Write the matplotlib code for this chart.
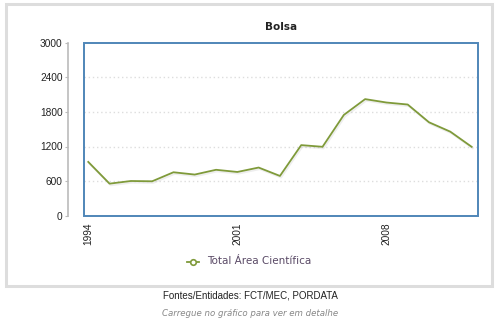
import matplotlib.pyplot as plt
import matplotlib.patheffects as pe
from matplotlib.patches import Rectangle
from matplotlib.lines import Line2D

# Bolsa - Total Área Científica
years = list(range(1994, 2013))
values = [932, 554, 600, 595, 752, 712, 795, 757, 834, 688,
          1224, 1195, 1749, 2024, 1965, 1930, 1621, 1458, 1195]
yticks = [0, 600, 1200, 1800, 2400, 3000]
xticks = [1994, 2001, 2008]

W, H = 500, 326
line_col = '#7f9a3a'
box_col = '#4f86b8'

fig = plt.figure(figsize=(W / 100, H / 100), dpi=100)
fig.patch.set_facecolor('white')

# outer gray frame
fig.add_artist(Rectangle((6 / W, 1 - 286 / H), 486 / W, 282 / H,
                         transform=fig.transFigure, fill=False,
                         edgecolor='#dddddd', linewidth=2.2))

ax = fig.add_axes([84 / W, 1 - 215.5 / H, 394 / W, 172.5 / H])
ax.spines['left'].set_position(('outward', 11.5))
for s in ['top', 'right', 'bottom']:
    ax.spines[s].set_visible(False)
ax.spines['left'].set_color('#bbbbbb')
ax.spines['left'].set_linewidth(1.2)

ax.plot(years, values, color=line_col, linewidth=1.3, zorder=3,
        path_effects=[pe.SimpleLineShadow(offset=(0.8, -1.2), shadow_color='#aaaaaa', alpha=0.2),
                      pe.Normal()])

ax.set_xlim(1993.8, 2012.3)
ax.set_ylim(0, 3000)
ax.set_yticks(yticks)
ax.set_xticks(xticks)
ax.tick_params(axis='x', length=0, pad=5, labelrotation=90, labelsize=7.3, labelcolor='#222222')
ax.tick_params(axis='y', length=2, width=0.8, color='#bbbbbb', pad=2,
               labelsize=7.3, labelcolor='#222222')
for lab in ax.get_xticklabels() + ax.get_yticklabels():
    lab.set_family('Liberation Sans')

# dotted grid inside the box
for v in yticks[1:-1]:
    ax.axhline(v, color='#dddddd', linestyle=(0, (1, 2)), linewidth=1, zorder=1)

ax.add_patch(Rectangle((0, 0), 1, 1, transform=ax.transAxes, fill=False,
                       edgecolor=box_col, linewidth=1.4, clip_on=False, zorder=4))

fig.text(281 / W, 1 - 27 / H, 'Bolsa', ha='center', va='center',
         fontsize=7.5, fontweight='bold', family='DejaVu Sans', color='#222222')

# legend
fig.add_artist(Line2D([187 / W, 199 / W], [1 - 262 / H, 1 - 262 / H],
                      transform=fig.transFigure, color=line_col, linewidth=1.3))
fig.add_artist(Line2D([193 / W], [1 - 262 / H], transform=fig.transFigure,
                      marker='o', markersize=4, markerfacecolor='white',
                      markeredgecolor=line_col, markeredgewidth=1.2))
fig.text(207 / W, 1 - 261 / H, 'Total Área Científica', ha='left', va='center',
         fontsize=7.5, family='DejaVu Sans', color='#5a4a66')

fig.text(250 / W, 1 - 296 / H, 'Fontes/Entidades: FCT/MEC, PORDATA', ha='center',
         va='center', fontsize=7, family='Liberation Sans', color='#222222')
fig.text(250 / W, 1 - 313 / H, 'Carregue no gráfico para ver em detalhe', ha='center',
         va='center', fontsize=6.2, family='DejaVu Sans', style='italic', color='#888888')

fig.savefig('out.png', dpi=100, facecolor='white')
